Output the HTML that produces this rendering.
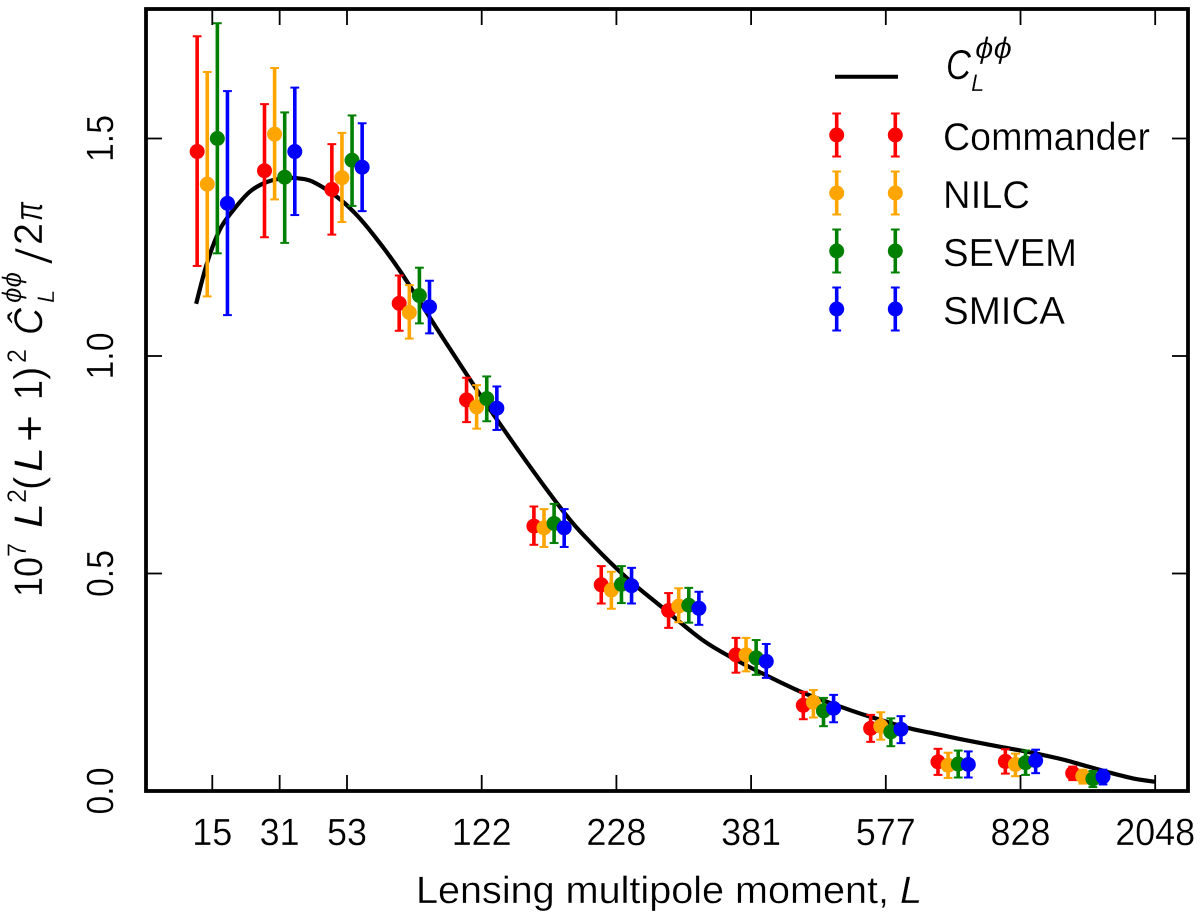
<!DOCTYPE html>
<html>
<head>
<meta charset="utf-8">
<style>
html,body{margin:0;padding:0;background:#fff;width:1200px;height:917px;overflow:hidden}
svg{display:block}
text{font-family:"Liberation Sans",sans-serif;fill:#000;stroke:#fff;stroke-width:.3;paint-order:fill stroke}
.it{font-style:italic}
</style>
</head>
<body>
<svg id="chart" width="1200" height="917" viewBox="0 0 1200 917" xmlns="http://www.w3.org/2000/svg">
  <g id="curve-layer"></g>
  <g id="points-layer"></g>
  <g id="axes-layer"></g>

  <text x="416" y="903" font-size="38" textLength="506" lengthAdjust="spacingAndGlyphs">Lensing multipole moment, <tspan class="it">L</tspan></text>

  <g transform="rotate(-90)">
    <text x="-597" y="42" font-size="40" textLength="40" lengthAdjust="spacingAndGlyphs">10</text>
    <text x="-557" y="26" font-size="27" textLength="14" lengthAdjust="spacingAndGlyphs">7</text>
    <text class="it" x="-528" y="42" font-size="40" textLength="25" lengthAdjust="spacingAndGlyphs">L</text>
    <text x="-503" y="26" font-size="27" textLength="14" lengthAdjust="spacingAndGlyphs">2</text>
    <text x="-490" y="42" font-size="40">(</text>
    <text class="it" x="-472" y="42" font-size="40" textLength="25" lengthAdjust="spacingAndGlyphs">L</text>
    <text x="-442" y="45" font-size="46">+</text>
    <text x="-400" y="42" font-size="40" textLength="20" lengthAdjust="spacingAndGlyphs">1</text>
    <text x="-380" y="42" font-size="40">)</text>
    <text x="-363" y="26" font-size="27" textLength="14" lengthAdjust="spacingAndGlyphs">2</text>
    <text class="it" x="-335" y="42" font-size="40" textLength="27" lengthAdjust="spacingAndGlyphs">Ĉ</text>
    <text class="it" x="-303" y="21" font-size="27" textLength="31" lengthAdjust="spacingAndGlyphs">ϕϕ</text>
    <text class="it" x="-303" y="54" font-size="24">L</text>
    <text x="-265" y="52" font-size="52" textLength="18" lengthAdjust="spacingAndGlyphs" style="stroke-width:1.6">/</text>
    <text x="-245" y="42" font-size="40" textLength="22" lengthAdjust="spacingAndGlyphs">2</text>
    <text class="it" x="-221" y="42" font-size="40" textLength="19" lengthAdjust="spacingAndGlyphs">π</text>
  </g>

  <g id="legend">
    <line x1="835" x2="898" y1="76.7" y2="76.7" stroke="#000" stroke-width="4"/>
    <g>
      <text class="it" x="946" y="79" font-size="42" textLength="25" lengthAdjust="spacingAndGlyphs">C</text>
      <text class="it" x="975" y="58" font-size="30" textLength="37" lengthAdjust="spacingAndGlyphs">ϕϕ</text>
      <text class="it" x="971" y="91" font-size="24">L</text>
    </g>
    <g id="legend-entries"></g>
    <text x="943" y="150" font-size="39" textLength="207" lengthAdjust="spacingAndGlyphs">Commander</text>
    <text x="943" y="208" font-size="39" textLength="87" lengthAdjust="spacingAndGlyphs">NILC</text>
    <text x="943" y="266" font-size="39" textLength="134" lengthAdjust="spacingAndGlyphs">SEVEM</text>
    <text x="943" y="324" font-size="39" textLength="122" lengthAdjust="spacingAndGlyphs">SMICA</text>
  </g>
</svg>
<script>
// Bin index 0..14 along the x axis; tick labels mark the multipole values at given bin indices
const xTickBins = [0, 1, 2, 4, 6, 8, 10, 12, 14];
const xTickLabels = ['15', '31', '53', '122', '228', '381', '577', '828', '2048'];
const yTickValues = [0.5, 1.0, 1.5];
const yTickLabels = ['0.0', '0.5', '1.0', '1.5'];
const yLabelValues = [0, 0.5, 1.0, 1.5];

// Theory curve: position along binned axis and value
const curveBins = [-0.24, -0.08, 0.11, 0.31, 0.56, 0.81, 1.08, 1.30, 1.50, 1.85, 2.12, 2.39, 2.79, 3.43, 4.23, 5.16, 5.65, 6.16, 6.69, 7.28, 7.78, 8.21, 8.74, 9.27, 9.74, 10.33, 10.66, 11.15, 11.65, 12.14, 12.56, 12.78, 13.33, 13.67, 14.0];
const curveValues = [1.12, 1.213, 1.29, 1.335, 1.378, 1.40, 1.409, 1.408, 1.40, 1.366, 1.328, 1.279, 1.195, 1.04, 0.853, 0.653, 0.566, 0.489, 0.421, 0.347, 0.301, 0.267, 0.228, 0.197, 0.172, 0.145, 0.134, 0.118, 0.103, 0.089, 0.075, 0.066, 0.042, 0.029, 0.021];

// Band powers per component-separation method
const commanderValues = [1.47, 1.426, 1.383, 1.121, 0.899, 0.609, 0.474, 0.415, 0.313, 0.197, 0.144, 0.067, 0.068, 0.041];
const commanderHigh = [1.735, 1.579, 1.487, 1.185, 0.950, 0.654, 0.517, 0.455, 0.352, 0.228, 0.175, 0.097, 0.096, 0.056];
const commanderLow = [1.207, 1.273, 1.279, 1.058, 0.848, 0.566, 0.431, 0.375, 0.272, 0.165, 0.113, 0.037, 0.040, 0.025];

const nilcValues = [1.395, 1.51, 1.41, 1.10, 0.883, 0.605, 0.462, 0.425, 0.313, 0.204, 0.149, 0.059, 0.061, 0.034];
const nilcHigh = [1.653, 1.662, 1.513, 1.163, 0.933, 0.648, 0.504, 0.466, 0.352, 0.232, 0.181, 0.088, 0.086, 0.049];
const nilcLow = [1.137, 1.36, 1.308, 1.04, 0.833, 0.561, 0.419, 0.388, 0.275, 0.169, 0.118, 0.030, 0.034, 0.017];

const sevemValues = [1.50, 1.411, 1.45, 1.139, 0.902, 0.615, 0.475, 0.427, 0.306, 0.184, 0.136, 0.062, 0.065, 0.028];
const sevemHigh = [1.765, 1.56, 1.553, 1.203, 0.953, 0.660, 0.517, 0.467, 0.347, 0.214, 0.167, 0.093, 0.093, 0.046];
const sevemLow = [1.236, 1.26, 1.345, 1.075, 0.850, 0.570, 0.432, 0.387, 0.267, 0.149, 0.103, 0.031, 0.037, 0.009];

const smicaValues = [1.351, 1.47, 1.434, 1.113, 0.880, 0.605, 0.472, 0.420, 0.298, 0.190, 0.142, 0.061, 0.070, 0.033];
const smicaHigh = [1.609, 1.617, 1.535, 1.173, 0.930, 0.648, 0.513, 0.458, 0.338, 0.221, 0.172, 0.091, 0.095, 0.049];
const smicaLow = [1.094, 1.324, 1.333, 1.052, 0.830, 0.561, 0.431, 0.382, 0.260, 0.158, 0.110, 0.031, 0.041, 0.015];

const NS = 'http://www.w3.org/2000/svg';
const PLOT = {left: 146, right: 1188, top: 9, bottom: 791};
function xScale(bin) { return 212.3 + 67.35 * bin; }
function yScale(v) { return 791 - 435 * v; }
function make(tag, attrs, parent) {
  const el = document.createElementNS(NS, tag);
  for (const k in attrs) el.setAttribute(k, attrs[k]);
  parent.appendChild(el);
  return el;
}

// Curve
(function () {
  const layer = document.getElementById('curve-layer');
  const pts = curveBins.map((b, i) => [xScale(b), yScale(curveValues[i])]);
  let d = 'M' + pts[0][0].toFixed(2) + ' ' + pts[0][1].toFixed(2);
  for (let i = 0; i < pts.length - 1; i++) {
    const p0 = pts[Math.max(i - 1, 0)], p1 = pts[i], p2 = pts[i + 1], p3 = pts[Math.min(i + 2, pts.length - 1)];
    const c1x = p1[0] + (p2[0] - p0[0]) / 6, c1y = p1[1] + (p2[1] - p0[1]) / 6;
    const c2x = p2[0] - (p3[0] - p1[0]) / 6, c2y = p2[1] - (p3[1] - p1[1]) / 6;
    d += ' C' + c1x.toFixed(2) + ' ' + c1y.toFixed(2) + ' ' + c2x.toFixed(2) + ' ' + c2y.toFixed(2) + ' ' + p2[0].toFixed(2) + ' ' + p2[1].toFixed(2);
  }
  const path = make('path', {d: d, fill: 'none', stroke: '#000', 'stroke-width': 4.2, 'stroke-linejoin': 'round'}, layer);
  
  
})();

// Series
const seriesNames = ['commander', 'nilc', 'sevem', 'smica'];
const seriesColors = ['#ff0000', '#ffa500', '#008000', '#0000ff'];
const seriesValues = [commanderValues, nilcValues, sevemValues, smicaValues];
const seriesHigh = [commanderHigh, nilcHigh, sevemHigh, smicaHigh];
const seriesLow = [commanderLow, nilcLow, sevemLow, smicaLow];
const seriesBinOffsets = [-0.225, -0.075, 0.075, 0.225];

function drawErrorMark(parent, cx, cy, yTop, yBot, color) {
  make('line', {x1: cx, x2: cx, y1: yTop, y2: yBot, stroke: color, 'stroke-width': 3.6}, parent);
  make('line', {x1: cx - 4.4, x2: cx + 4.4, y1: yTop, y2: yTop, stroke: color, 'stroke-width': 2}, parent);
  make('line', {x1: cx - 4.4, x2: cx + 4.4, y1: yBot, y2: yBot, stroke: color, 'stroke-width': 2}, parent);
  make('circle', {cx: cx, cy: cy, r: 7.5, fill: color}, parent);
}

const pointsLayer = document.getElementById('points-layer');
seriesNames.forEach((name, s) => {
  const group = make('g', {}, pointsLayer);
  
  
  seriesValues[s].forEach((v, i) => {
    const pt = make('g', {}, group);
    
    
    const cx = xScale(i + seriesBinOffsets[s]);
    drawErrorMark(pt, cx, yScale(v), yScale(seriesHigh[s][i]), yScale(seriesLow[s][i]), seriesColors[s]);
  });
});

// Legend marks
const legendRowsY = [135, 193, 251, 309];
const legendMarkX = [836.7, 895.3];
const legendEntries = document.getElementById('legend-entries');
seriesNames.forEach((name, s) => {
  legendMarkX.forEach((lx, k) => {
    const g = make('g', {}, legendEntries);
    
    
    drawErrorMark(g, lx, legendRowsY[s], legendRowsY[s] - 21.5, legendRowsY[s] + 21.5, seriesColors[s]);
  });
});

// Axes
const axes = document.getElementById('axes-layer');
xTickBins.forEach((b, i) => {
  const x = xScale(b);
  const t1 = make('line', {x1: x, x2: x, y1: PLOT.bottom, y2: PLOT.bottom - 16, stroke: '#000', 'stroke-width': 1.8}, axes);
  
  
  const t2 = make('line', {x1: x, x2: x, y1: PLOT.top, y2: PLOT.top + 16, stroke: '#000', 'stroke-width': 1.8}, axes);
  
  
  const lab = make('text', {x: x, y: 845, 'font-size': 38, 'text-anchor': 'middle', textLength: xTickLabels[i].length * 20, lengthAdjust: 'spacingAndGlyphs'}, axes);
  lab.textContent = xTickLabels[i];
  
  
});
yTickValues.forEach(v => {
  const y = yScale(v);
  const t1 = make('line', {x1: PLOT.left, x2: PLOT.left + 16, y1: y, y2: y, stroke: '#000', 'stroke-width': 1.8}, axes);
  
  
  const t2 = make('line', {x1: PLOT.right, x2: PLOT.right - 16, y1: y, y2: y, stroke: '#000', 'stroke-width': 1.8}, axes);
  
  
});
yLabelValues.forEach((v, i) => {
  const y = yScale(v);
  const lab = make('text', {x: 0, y: 0, 'font-size': 38, 'text-anchor': 'middle', textLength: 47, lengthAdjust: 'spacingAndGlyphs', transform: 'translate(113 ' + y + ') rotate(-90)'}, axes);
  lab.textContent = yTickLabels[i];
  
  
});
const frame = make('rect', {x: PLOT.left, y: PLOT.top, width: PLOT.right - PLOT.left, height: PLOT.bottom - PLOT.top, fill: 'none', stroke: '#000', 'stroke-width': 3.8}, axes);


</script>
</body>
</html>
